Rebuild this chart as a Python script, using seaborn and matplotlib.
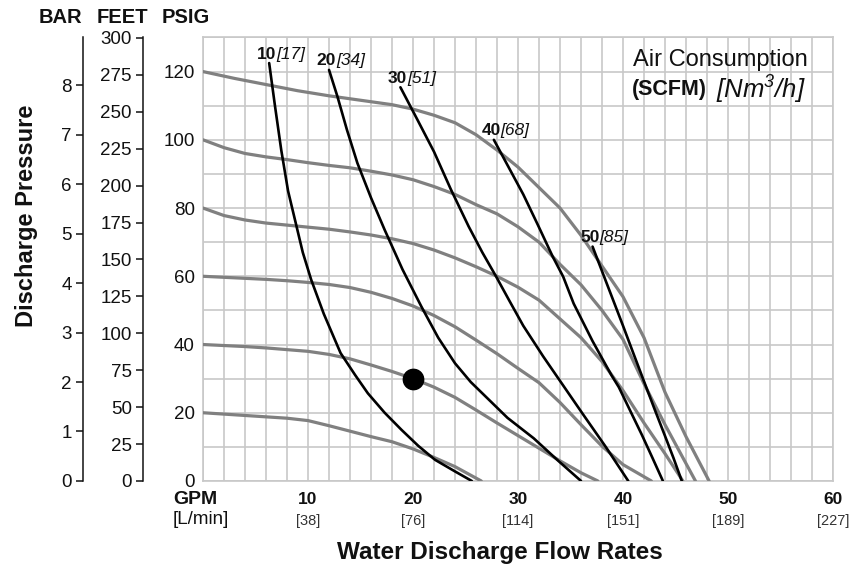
import numpy as np
import pandas as pd
import matplotlib
matplotlib.use("Agg")
import matplotlib.pyplot as plt
import seaborn as sns

# --- Head curves at constant air inlet pressure (psig) ---
p120_gpm = [0, 3, 6, 9, 12, 15, 18, 20, 22, 24, 26, 28, 30, 32, 34, 36, 38, 40, 42, 44, 46, 48.2]
p120_psig = [120, 118, 116.2, 114.4, 112.9, 111.6, 110.3, 109, 107.2, 105, 101.5, 97, 92, 86, 80, 72, 63, 54, 42, 26, 13, 0]

p100_gpm = [0, 2, 4, 6, 8, 10, 12, 14, 16, 18, 20, 22, 24, 26, 28, 30, 32, 34, 36, 38, 40, 42, 44, 46.9]
p100_psig = [100, 97.7, 96, 95, 94.2, 93.3, 92.5, 91.8, 90.8, 89.7, 88.3, 86.3, 84, 81, 78.3, 74.5, 70, 63.5, 57.5, 50, 41.5, 28.5, 16.5, 0]

p80_gpm = [0, 2, 4, 6, 8, 10, 12, 14, 16, 18, 20, 22, 24, 26, 28, 30, 32, 34, 36, 38, 40, 42, 44, 45.7]
p80_psig = [80, 77.8, 76.5, 75.6, 75, 74.4, 73.8, 73, 72.1, 71, 69.6, 67.7, 65.4, 62.8, 60, 56.8, 53, 47.5, 42, 35, 26.5, 17, 8, 0]

p60_gpm = [0, 2, 4, 6, 8, 10, 12, 14, 16, 18, 20, 22, 24, 26, 28, 30, 32, 34, 36, 38, 40, 42.7]
p60_psig = [60, 59.7, 59.4, 59.1, 58.7, 58.2, 57.6, 56.7, 55.3, 53.5, 51.3, 48.5, 45.2, 41.3, 37.3, 33, 28.8, 23, 16.5, 10.2, 4.8, 0]

p40_gpm = [0, 2, 4, 6, 8, 10, 12, 14, 16, 18, 20, 22, 24, 26, 28, 30, 32, 34, 36, 37.6]
p40_psig = [40, 39.7, 39.4, 39.0, 38.5, 38.0, 37.1, 35.8, 34.0, 32.1, 30.0, 27.5, 24.5, 20.8, 17.0, 13.3, 9.6, 5.9, 2.4, 0]

p20_gpm = [0, 2, 4, 6, 8, 10, 12, 14, 16, 18, 20, 22, 24, 26.5]
p20_psig = [20, 19.6, 19.2, 18.8, 18.4, 17.7, 16.2, 14.6, 13.0, 11.5, 9.4, 6.9, 4.2, 0]

# --- Air consumption curves (SCFM) ---
a10_gpm = [6.3, 6.85, 7.45, 8.1, 8.8, 9.5, 10.3, 11.5, 13.1, 14.5, 15.7, 17.3, 18.9, 20.5, 22.1, 24, 25.6]
a10_psig = [122.5, 110, 97, 85, 76, 67, 59, 49, 37.5, 31, 25.7, 20, 15, 10.3, 6.2, 2.8, 0]

a20_gpm = [12.0, 12.8, 13.7, 14.7, 16.0, 17.3, 19.0, 20.8, 22.4, 24, 25.5, 27, 29, 31.5, 33.8, 36]
a20_psig = [120.5, 112.7, 103, 93.2, 83, 73.6, 62, 51.1, 42, 34.5, 29, 24.5, 18.5, 12.5, 6, 0]

a30_gpm = [18.8, 20.4, 22, 23.6, 25.3, 26.6, 27.9, 29.2, 30.5, 32.4, 34.3, 36.2, 38.4, 40.5]
a30_psig = [115.4, 106, 96.5, 85.5, 74.6, 67, 60, 52.7, 45.5, 36.5, 28, 19.5, 9.8, 0]

a40_gpm = [27.7, 29.1, 30.5, 31.9, 33.3, 34.3, 35.3, 36.2, 37.1, 38, 38.9, 39.6, 40.7, 41.8, 42.8, 43.8]
a40_psig = [100, 92, 84, 75, 65.8, 59.9, 52, 46.5, 41, 36, 31, 27.5, 20.5, 13.5, 6.8, 0]

a50_gpm = [37.1, 38.0, 39.0, 40.0, 41.0, 42.0, 43.0, 44.0, 44.8, 45.6]
a50_psig = [68.7, 61.5, 53.5, 45.5, 37.3, 29.2, 21.1, 13.2, 6.8, 0]

scfm_labels = ["10", "20", "30", "40", "50"]
nm3h_labels = ["[17]", "[34]", "[51]", "[68]", "[85]"]

# operating point marker
op_gpm = [20]
op_psig = [30]

gpm_ticks = [10, 20, 30, 40, 50, 60]
lpm_ticks = ["[38]", "[76]", "[114]", "[151]", "[189]", "[227]"]

# --- build long tables for seaborn ---
head = pd.concat([
    pd.DataFrame({"gpm": x, "psig": y, "curve": n})
    for n, x, y in [("120", p120_gpm, p120_psig), ("100", p100_gpm, p100_psig),
                    ("80", p80_gpm, p80_psig), ("60", p60_gpm, p60_psig),
                    ("40", p40_gpm, p40_psig), ("20", p20_gpm, p20_psig)]
])
air_curves = [(a10_gpm, a10_psig), (a20_gpm, a20_psig), (a30_gpm, a30_psig),
              (a40_gpm, a40_psig), (a50_gpm, a50_psig)]
air = pd.concat([
    pd.DataFrame({"gpm": x, "psig": y, "curve": n})
    for n, (x, y) in zip(scfm_labels, air_curves)
])

sns.set_theme(style="white")
plt.rcParams['font.family'] = 'Liberation Sans'
plt.rcParams['text.color'] = '#111111'
plt.rcParams['mathtext.fontset'] = 'custom'
plt.rcParams['mathtext.rm'] = 'Liberation Sans:italic'
plt.rcParams['mathtext.it'] = 'Liberation Sans:italic'

fig = plt.figure(figsize=(8.57, 5.73), dpi=100)
ax = fig.add_axes([0.2369, 0.1606, 0.7351, 0.774])

sns.lineplot(data=head, x="gpm", y="psig", units="curve", estimator=None, sort=False,
             color="#808080", linewidth=2.3, ax=ax, zorder=3)
sns.lineplot(data=air, x="gpm", y="psig", units="curve", estimator=None, sort=False,
             color="black", linewidth=1.9, ax=ax, zorder=4)
sns.scatterplot(x=op_gpm, y=op_psig, s=210, color="black", edgecolor="black", ax=ax, zorder=5)

ax.set_xlim(0, 60)
ax.set_ylim(0, 130)
xt = np.arange(0, 61, 2)
ax.set_xticks(xt)
ax.set_xticklabels([str(v) if (v % 10 == 0 and v > 0) else "" for v in xt],
                   fontweight="bold", fontsize=12.5)
yt = np.arange(0, 131, 10)
ax.set_yticks(yt)
ax.set_yticklabels([str(v) if (v % 20 == 0 and v <= 120) else "" for v in yt], fontsize=13.5)
ax.tick_params(axis="x", length=0, pad=8, colors="#111111")
ax.tick_params(axis="y", length=0, pad=6, colors="#111111")
ax.grid(True, color="#c8c8c8", linewidth=1.2)
ax.set_axisbelow(True)
for s in ax.spines.values():
    s.set_color("#c8c8c8")
    s.set_linewidth(1.2)
ax.set_xlabel("")
ax.set_ylabel("")

# secondary pressure scales
ft = ax.secondary_yaxis(-0.0952, functions=(lambda p: p * 2.31, lambda f: f / 2.31))
ft.set_yticks(np.arange(0, 301, 25))
bar = ax.secondary_yaxis(-0.1905, functions=(lambda p: p / 14.5038, lambda b: b * 14.5038))
bar.set_yticks(np.arange(0, 9, 1))
for sec in (ft, bar):
    sec.spines["left"].set_color("#111111")
    sec.spines["left"].set_linewidth(1.1)
    sec.tick_params(direction="out", length=5, width=1.1, labelsize=13.5, pad=3, colors="#111111")

# L/min row under the GPM ticks
for g, l in zip(gpm_ticks, lpm_ticks):
    ax.text(g, -0.09, l, transform=ax.get_xaxis_transform(), ha="center", va="center",
            fontsize=10.5, color="#333333")

# SCFM [Nm3/h] labels at top of each air curve
for (x, y), n, m in zip(air_curves, scfm_labels, nm3h_labels):
    ax.annotate(n, xy=(x[0], y[0]), xytext=(5, 1), textcoords="offset points",
                ha="right", va="bottom", fontsize=12.5, fontweight="bold")
    ax.annotate(m, xy=(x[0], y[0]), xytext=(5, 1), textcoords="offset points",
                ha="left", va="bottom", fontsize=12.5, fontstyle="italic")

# air consumption note
fig.text(0.943, 0.895, "Air Consumption", ha="right", va="center", fontsize=17)
fig.text(0.7375, 0.843, "(SCFM)", ha="left", va="center", fontsize=15.5, fontweight="bold")
fig.text(0.8355, 0.843, r"[Nm$^{3}$/h]", ha="left", va="center", fontsize=18.5, fontstyle="italic")

# axis titles
fig.text(0.070, 0.970, "BAR", ha="center", va="center", fontsize=14.5, fontweight="bold")
fig.text(0.1424, 0.970, "FEET", ha="center", va="center", fontsize=14.5, fontweight="bold")
fig.text(0.217, 0.970, "PSIG", ha="center", va="center", fontsize=14.5, fontweight="bold")
fig.text(0.0315, 0.623, "Discharge Pressure", rotation=90, ha="center", va="center",
         fontsize=17, fontweight="bold")
fig.text(0.2019, 0.1274, "GPM", ha="left", va="center", fontsize=14, fontweight="bold")
fig.text(0.2019, 0.0942, "[L/min]", ha="left", va="center", fontsize=13.5)
fig.text(0.583, 0.0366, "Water Discharge Flow Rates", ha="center", va="center",
         fontsize=17.5, fontweight="bold")

fig.savefig("out.png", dpi=100)
